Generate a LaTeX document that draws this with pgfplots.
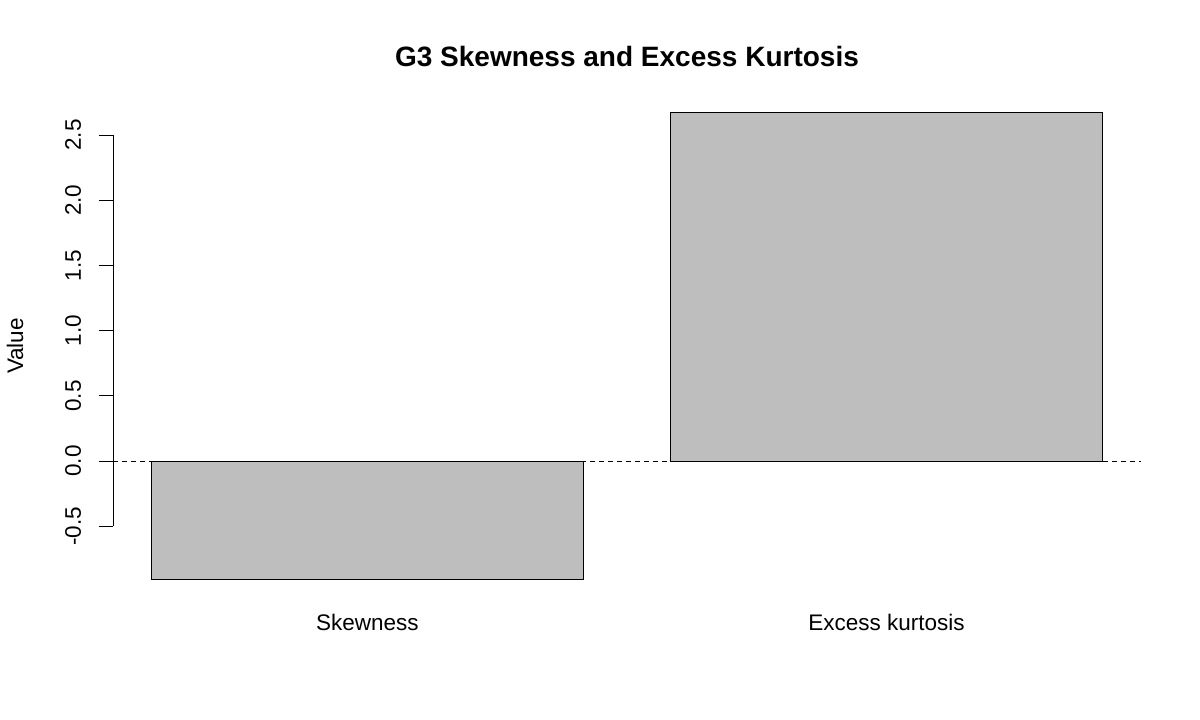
\documentclass[border=0pt]{standalone}
\usepackage{pgfplots}
\pgfplotsset{compat=1.18}
\usepackage{fontspec}
\setmainfont{Liberation Sans}
\definecolor{rgray}{HTML}{BEBEBE}
\begin{document}
\begin{tikzpicture}
\path[use as bounding box] (0,0) rectangle (600bp,360bp);
\begin{axis}[
  at={(56.5bp,61bp)}, anchor=south west,
  scale only axis, width=514bp, height=252bp,
  xmin=0.112, xmax=2.488, ymin=-1.050, ymax=2.815,
  axis line style={draw=none},
  ybar, bar width=1,
  xtick={0.7,1.9}, xticklabels={Skewness,Excess kurtosis},
  xtick style={draw=none},
  ytick={-0.5,0,0.5,1,1.5,2,2.5},
  yticklabels={-0.5,0.0,0.5,1.0,1.5,2.0,2.5},
  ytick pos=left,
  ytick style={draw=black, line width=0.5bp},
  tick align=outside, major tick length=7bp,
  tick label style={font=\fontsize{11.25bp}{13bp}\selectfont},
  yticklabel style={xshift=-9bp, rotate=90, anchor=base, inner sep=0pt},
  xticklabel style={yshift=-9bp, anchor=base, inner sep=0pt},
  every axis title/.style={at={(axis description cs:0.5,1)}, anchor=base, yshift=13.5bp, inner sep=0pt, font=\bfseries\fontsize{14bp}{16bp}\selectfont},
  title={G3 Skewness and Excess Kurtosis},
  every axis y label/.style={at={(axis description cs:0,0.5)}, xshift=-45bp, rotate=90, anchor=base, inner sep=0pt, font=\fontsize{11.25bp}{13bp}\selectfont},
  ylabel={Value},
  clip=false,
]
\addplot[fill=rgray, draw=black, line width=0.5bp] coordinates {(0.7,-0.907) (1.9,2.672)};
\draw[line width=0.5bp] (axis cs:0.112,-0.5) -- (axis cs:0.112,2.5);
\draw[line width=0.5bp, dash pattern=on 2.5bp off 2bp] (axis cs:0.112,0) -- (axis cs:2.488,0);
\end{axis}
\end{tikzpicture}
\end{document}
